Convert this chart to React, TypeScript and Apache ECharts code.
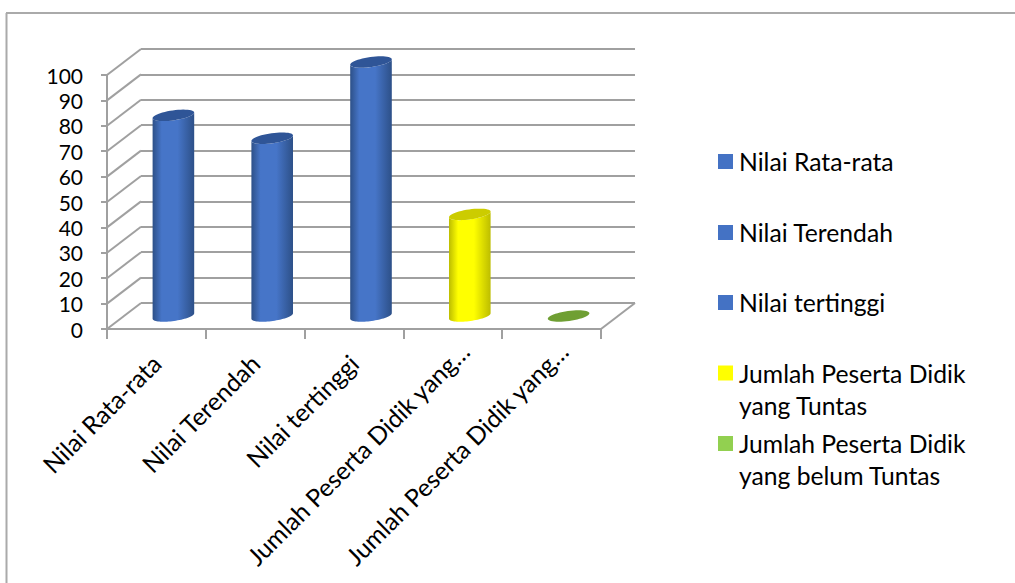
import React, { useEffect, useRef } from "react";
import * as echarts from "echarts";

const WIDTH = 1015;
const HEIGHT = 583;
const FONT = "Lato, sans-serif";
const GRID_COLOR = "#a0a0a0";

const categories = [
  "Nilai Rata-rata",
  "Nilai Terendah",
  "Nilai tertinggi",
  "Jumlah Peserta Didik yang…",
  "Jumlah Peserta Didik yang…",
];
const seriesNames = [
  "Nilai Rata-rata",
  "Nilai Terendah",
  "Nilai tertinggi",
  "Jumlah Peserta Didik yang Tuntas",
  "Jumlah Peserta Didik yang belum Tuntas",
];
// A leading blank line keeps the first text line level with the legend square.
const legendLabels = [
  "{t|Nilai Rata-rata}",
  "{t|Nilai Terendah}",
  "{t|Nilai tertinggi}",
  "{t| }\n{t|Jumlah Peserta Didik}\n{t|yang Tuntas}",
  "{t| }\n{t|Jumlah Peserta Didik}\n{t|yang belum Tuntas}",
];
const values = [79, 70, 100, 40, 0];
const legendColors = ["#4472c4", "#4472c4", "#4472c4", "#ffff00", "#92d050"];
const edgeColors = ["#2d5088", "#2d5088", "#2d5088", "#bdbd00", "#6f9f33"];
const midColors = ["#4675c8", "#4675c8", "#4675c8", "#ffff00", "#92d050"];
const capColors = ["#2f5597", "#2f5597", "#2f5597", "#cccc00", "#6f9f33"];
const legendTops = [149, 220, 290, 328.5, 399];
const tickValues = [0, 10, 20, 30, 40, 50, 60, 70, 80, 90, 100];

// Oblique projection of the chart's depth axis, in pixels.
const DEPTH_X = 34;
const DEPTH_Y = -26;
const RX = 21;
const RY = 5;
const TILT = (8 * Math.PI) / 180;

// Point on a tilted ellipse around (cx, cy); the right side rises.
const ellipsePoint = (cx: number, cy: number, t: number) => {
  const ex = RX * Math.cos(t);
  const ey = RY * Math.sin(t);
  return [cx + ex * Math.cos(TILT) + ey * Math.sin(TILT), cy - ex * Math.sin(TILT) + ey * Math.cos(TILT)];
};

const cylinderItem = (seriesIndex: number) => (_: any, api: any) => {
  const cat = api.value(0);
  const val = api.value(1);
  const top = api.coord([cat, val]);
  const base = api.coord([cat, 0]);
  const cx = top[0] + DEPTH_X / 2;
  const topY = top[1] + DEPTH_Y / 2;
  const baseY = base[1] + DEPTH_Y / 2;
  const children: any[] = [];
  if (val > 0) {
    const outline: number[][] = [];
    const steps = 36;
    // Body outline: the upper rim's far side is covered by the cap, the lower rim is the near half.
    for (let i = 0; i <= steps; i++) outline.push(ellipsePoint(cx, baseY, (Math.PI * i) / steps));
    for (let i = 0; i <= steps; i++) outline.push(ellipsePoint(cx, topY, Math.PI - (Math.PI * i) / steps));
    children.push({
      type: "polygon",
      shape: { points: outline },
      style: {
        fill: new echarts.graphic.LinearGradient(0, 0, 1, 0, [
          { offset: 0, color: edgeColors[seriesIndex] },
          { offset: 0.22, color: midColors[seriesIndex] },
          { offset: 0.6, color: midColors[seriesIndex] },
          { offset: 1, color: edgeColors[seriesIndex] },
        ]),
      },
    });
  }
  const cap: number[][] = [];
  for (let i = 0; i < 48; i++) cap.push(ellipsePoint(cx, topY, (2 * Math.PI * i) / 48));
  children.push({ type: "polygon", shape: { points: cap }, style: { fill: capColors[seriesIndex] } });
  return { type: "group", children };
};

// Receding edges of the left wall, one for each value tick.
const wallEdgeItem = (_: any, api: any) => {
  const p = api.coord([0, api.value(0)]);
  const x = p[0] - api.size([1, 0])[0] / 2;
  return {
    type: "line",
    shape: { x1: x, y1: p[1], x2: x + DEPTH_X, y2: p[1] + DEPTH_Y },
    style: { stroke: GRID_COLOR, lineWidth: 2 },
  };
};
// Receding edge on the floor's right side.
const floorEdgeItem = (_: any, api: any) => {
  const p = api.coord([categories.length - 1, 0]);
  const x = p[0] + api.size([1, 0])[0] / 2;
  return {
    type: "line",
    shape: { x1: x, y1: p[1], x2: x + DEPTH_X, y2: p[1] + DEPTH_Y },
    style: { stroke: GRID_COLOR, lineWidth: 2 },
  };
};

export default function App() {
  const ref = useRef<HTMLDivElement>(null);
  useEffect(() => {
    const chart = echarts.init(ref.current!, undefined, { renderer: "svg" });
    chart.setOption({
      animation: false,
      backgroundColor: "#ffffff",
      textStyle: { fontFamily: FONT },
      graphic: [
        { type: "line", shape: { x1: 6.5, y1: 13, x2: 6.5, y2: HEIGHT }, style: { stroke: "#aaaaaa", lineWidth: 2 } },
        { type: "line", shape: { x1: 6, y1: 13, x2: WIDTH, y2: 13 }, style: { stroke: "#aaaaaa", lineWidth: 2 } },
      ],
      grid: [
        { left: 107, top: 75, width: 494, height: 254 },
        { left: 107 + DEPTH_X, top: 75 + DEPTH_Y, width: 494, height: 254 },
      ],
      xAxis: [
        {
          type: "category",
          gridIndex: 0,
          // The shortened labels sit further up the slant than the complete ones.
          data: categories.map((value) => ({
            value,
            textStyle: { padding: value.endsWith("…") ? 0 : [0, 17, 0, 0] },
          })),
          boundaryGap: true,
          axisLine: { show: true, lineStyle: { color: GRID_COLOR, width: 2 } },
          axisTick: { show: true, length: 10, lineStyle: { color: GRID_COLOR, width: 2 } },
          axisLabel: {
            interval: 0,
            rotate: 45,
            margin: 6,
            color: "#000000",
            fontFamily: FONT,
            fontSize: 24.7,
            lineHeight: 34,
            hideOverlap: false,
            // The blank first line slides each slanted label sideways off its tick.
            formatter: (value: string) => `\n${value}`,
          },
        },
        { type: "category", gridIndex: 1, data: categories, show: false },
      ],
      yAxis: [
        {
          type: "value",
          gridIndex: 0,
          min: 0,
          max: 100,
          interval: 10,
          axisLine: { show: true, lineStyle: { color: GRID_COLOR, width: 2 } },
          axisTick: { show: true, length: 6, lineStyle: { color: GRID_COLOR, width: 2 } },
          axisLabel: { margin: 24, color: "#000000", fontFamily: FONT, fontSize: 21 },
          splitLine: { show: false },
        },
        {
          type: "value",
          gridIndex: 1,
          min: 0,
          max: 100,
          interval: 10,
          axisLine: { show: false },
          axisTick: { show: false },
          axisLabel: { show: false },
          splitLine: { show: true, lineStyle: { color: GRID_COLOR, width: 2 } },
        },
      ],
      legend: seriesNames.map((name, i) => ({
        left: 718,
        top: legendTops[i],
        orient: "vertical",
        itemWidth: 15,
        itemHeight: 15,
        itemGap: 0,
        selectedMode: false,
        padding: 0,
        icon: "rect",
        data: [{ name, itemStyle: { color: legendColors[i] } }],
        formatter: () => legendLabels[i],
        textStyle: {
          rich: {
            t: {
              color: "#000000",
              fontFamily: FONT,
              fontSize: 24.7,
              lineHeight: 32,
              padding: [0, 0, 0, 1],
            },
          },
        },
      })),
      series: [
        {
          type: "custom",
          name: "wall edges",
          xAxisIndex: 0,
          yAxisIndex: 0,
          silent: true,
          clip: false,
          renderItem: wallEdgeItem,
          data: tickValues.map((v) => [v]),
          encode: { y: 0 },
          z: 1,
        },
        {
          type: "custom",
          name: "floor edge",
          xAxisIndex: 0,
          yAxisIndex: 0,
          silent: true,
          clip: false,
          renderItem: floorEdgeItem,
          data: [[0]],
          encode: { y: 0 },
          z: 1,
        },
        ...seriesNames.map((name, i) => ({
          type: "custom",
          name,
          xAxisIndex: 0,
          yAxisIndex: 0,
          clip: false,
          itemStyle: { color: legendColors[i] },
          renderItem: cylinderItem(i),
          data: [[i, values[i]]],
          encode: { x: 0, y: 1 },
          z: 3,
        })),
      ],
    });
    return () => chart.dispose();
  }, []);
  return <div ref={ref} style={{ position: "absolute", left: 0, top: 0, width: WIDTH, height: HEIGHT }} />;
}
